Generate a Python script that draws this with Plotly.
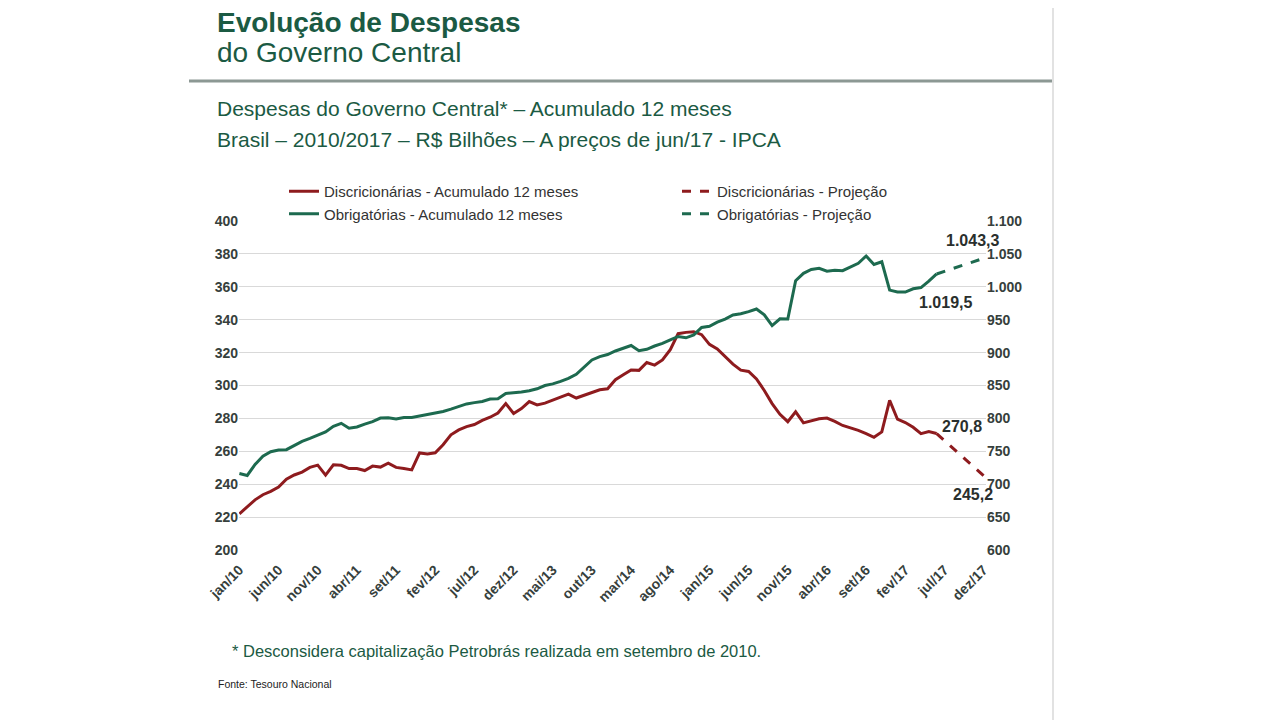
import plotly.graph_objects as go

# Periodos mensais jan/10 .. dez/17
meses = ["jan", "fev", "mar", "abr", "mai", "jun", "jul", "ago", "set", "out", "nov", "dez"]
periodos = [f"{m}/{a}" for a in range(10, 18) for m in meses]
rotulos_x = periodos[::5]

# Discricionarias - acumulado 12 meses (R$ bi, eixo esquerdo), jan/10 .. jun/17
discricionarias = [
    222.0, 226.5, 230.5, 233.6, 235.6, 238.2, 243.0, 245.6, 247.4, 250.2,
    251.6, 245.5, 251.8, 251.5, 249.5, 249.5, 248.3, 251.0, 250.4, 252.8,
    250.2, 249.5, 248.7, 259.0, 258.3, 259.1, 264.0, 270.0, 273.0, 275.0,
    276.3, 278.8, 280.7, 283.3, 289.0, 283.0, 286.0, 290.2, 288.2, 289.3,
    291.2, 293.0, 294.8, 292.4, 294.1, 296.0, 297.4, 298.0, 303.5, 306.5,
    309.4, 309.2, 314.0, 312.4, 315.5, 321.8, 331.5, 332.3, 332.7, 330.9,
    325.0, 322.2, 317.7, 313.0, 309.3, 308.5, 304.0, 297.0, 289.0, 282.5,
    278.0, 284.0, 277.3, 278.5, 279.8, 280.2, 278.2, 275.7, 274.3, 272.7,
    270.8, 268.5, 271.8, 291.0, 279.5, 277.5, 274.6, 270.7, 272.0, 270.8,
]

# Obrigatorias - acumulado 12 meses (R$ bi, eixo direito), jan/10 .. jun/17
obrigatorias = [
    716.3, 713.3, 730.0, 742.5, 749.3, 752.0, 752.5, 758.3, 765.0, 769.5,
    774.0, 779.5, 788.0, 792.5, 785.0, 787.0, 791.3, 795.0, 800.5, 800.8,
    799.0, 801.5, 801.3, 803.5, 805.0, 807.5, 810.5, 814.0, 817.8, 822.0,
    824.0, 825.8, 829.5, 830.0, 838.0, 838.8, 840.0, 842.0, 845.0, 850.0,
    852.5, 856.3, 860.8, 867.0, 877.5, 888.8, 894.0, 897.0, 902.5, 906.3,
    910.8, 903.0, 905.0, 910.0, 914.0, 919.3, 924.5, 922.5, 927.0, 938.3,
    940.0, 946.3, 951.0, 957.3, 959.0, 962.3, 966.3, 957.5, 941.0, 951.3,
    951.0, 1009.3, 1020.5, 1026.3, 1028.0, 1023.8, 1025.0, 1024.5, 1030.0, 1035.8,
    1046.8, 1034.0, 1038.0, 995.0, 992.0, 992.0, 997.0, 998.8, 1008.5, 1019.5,
]

# Projecoes jun/17 -> dez/17
proj_x = ["jun/17", "dez/17"]
disc_proj = [270.8, 245.2]
obrig_proj = [1019.5, 1043.3]

VERMELHO = "#8e1b1e"
VERDE = "#1d6a4f"
VERDE_TXT = "#1b5a43"
CINZA = "#333333"
EIXO = "#36403c"
FONTE = "Liberation Sans, Arial, sans-serif"

# a pagina tem 8px de margem no body
OFF = 8
# area do grafico em pixels da tela
L, R, T, B = 239, 986, 221, 550


def px(x):
    return (x - L) / (R - L)


def py(y):
    return (B - y) / (B - T)


fig = go.Figure()
fig.add_trace(go.Scatter(x=periodos[:len(discricionarias)], y=discricionarias,
                         name="Discricionárias - Acumulado 12 meses",
                         mode="lines", line=dict(color=VERMELHO, width=3),
                         legend="legend", legendgroup="a"))
fig.add_trace(go.Scatter(x=periodos[:len(obrigatorias)], y=obrigatorias,
                         name="Obrigatórias - Acumulado 12 meses",
                         mode="lines", line=dict(color=VERDE, width=3),
                         yaxis="y2", legend="legend", legendgroup="b"))
fig.add_trace(go.Scatter(x=proj_x, y=disc_proj, name="Discricionárias - Projeção",
                         mode="lines", line=dict(color=VERMELHO, width=3, dash="dash"),
                         legend="legend2", legendgroup="c"))
fig.add_trace(go.Scatter(x=proj_x, y=obrig_proj, name="Obrigatórias - Projeção",
                         mode="lines", line=dict(color=VERDE, width=3, dash="dash"),
                         yaxis="y2", legend="legend2", legendgroup="d"))

eixo_font = dict(family=FONTE, size=14, color=EIXO, weight="bold")
leg = dict(font=dict(family=FONTE, size=15, color=CINZA), bgcolor="rgba(0,0,0,0)",
           xanchor="left", yanchor="top", tracegroupgap=0, itemwidth=30)
fig.update_layout(
    width=1280, height=720,
    margin=dict(l=L - OFF, r=1280 - R + OFF, t=T - OFF, b=720 - B + OFF),
    paper_bgcolor="white", plot_bgcolor="white",
    separators=",.",
    showlegend=True,
    legend=dict(x=px(284), y=py(175), **leg),
    legend2=dict(x=px(677), y=py(175), **leg),
    xaxis=dict(type="category", categoryorder="array", categoryarray=periodos,
               range=[-0.05, 95.3], tickvals=rotulos_x, ticktext=rotulos_x,
               tickangle=-45, showgrid=False, showline=False, ticks="",
               ticklabelstandoff=8, tickfont=eixo_font),
    yaxis=dict(range=[200, 400], dtick=20, showgrid=True, gridcolor="#d9d9d9",
               gridwidth=1, zeroline=False, showline=False, ticks="",
               tickfont=eixo_font),
    yaxis2=dict(range=[600, 1100], dtick=50, overlaying="y", side="right",
                showgrid=False, zeroline=False, showline=False, ticks="",
                tickformat=",d", tickfont=eixo_font),
)

rotulo = dict(font=dict(family=FONTE, size=16, color="#2a2f2d", weight="bold"),
              showarrow=False)
fig.add_annotation(x="dez/17", y=1043.3, yref="y2", text="1.043,3",
                   xanchor="center", yanchor="bottom", xshift=-11, yshift=7, **rotulo)
fig.add_annotation(x="jun/17", y=1019.5, yref="y2", text="1.019,5",
                   xanchor="center", yanchor="top", xshift=9, yshift=-18, **rotulo)
fig.add_annotation(x="jun/17", y=270.8, yref="y", text="270,8",
                   xanchor="left", yanchor="middle", xshift=3, yshift=7, **rotulo)
fig.add_annotation(x="dez/17", y=245.2, yref="y", text="245,2",
                   xanchor="center", yanchor="top", xshift=-11, yshift=-8, **rotulo)

# titulos e notas
textos = [
    ("<b>Evolução de Despesas</b>", 215, 22, 28, VERDE_TXT),
    ("do Governo Central", 215, 53, 28, VERDE_TXT),
    ("Despesas do Governo Central* – Acumulado 12 meses", 215, 108, 21, VERDE_TXT),
    ("Brasil – 2010/2017 – R$ Bilhões – A preços de jun/17 - IPCA", 215, 139, 21, VERDE_TXT),
    ("* Desconsidera capitalização Petrobrás realizada em setembro de 2010.", 230, 651, 16.5, VERDE_TXT),
    ("Fonte: Tesouro Nacional", 216, 684, 10.5, "#222222"),
]
for txt, x0, y0, tam, cor in textos:
    fig.add_annotation(text=txt, xref="paper", yref="paper", x=px(x0), y=py(y0),
                       xanchor="left", yanchor="middle", showarrow=False,
                       font=dict(family=FONTE, size=tam, color=cor))

fig.add_shape(type="line", xref="paper", yref="paper",
              x0=px(189), x1=px(1052), y0=py(81), y1=py(81),
              line=dict(color="#8c9894", width=3))
fig.add_shape(type="line", xref="paper", yref="paper",
              x0=px(1053), x1=px(1053), y0=py(-10), y1=py(730),
              line=dict(color="#e2e2e2", width=2))

fig.write_html("out.html")
